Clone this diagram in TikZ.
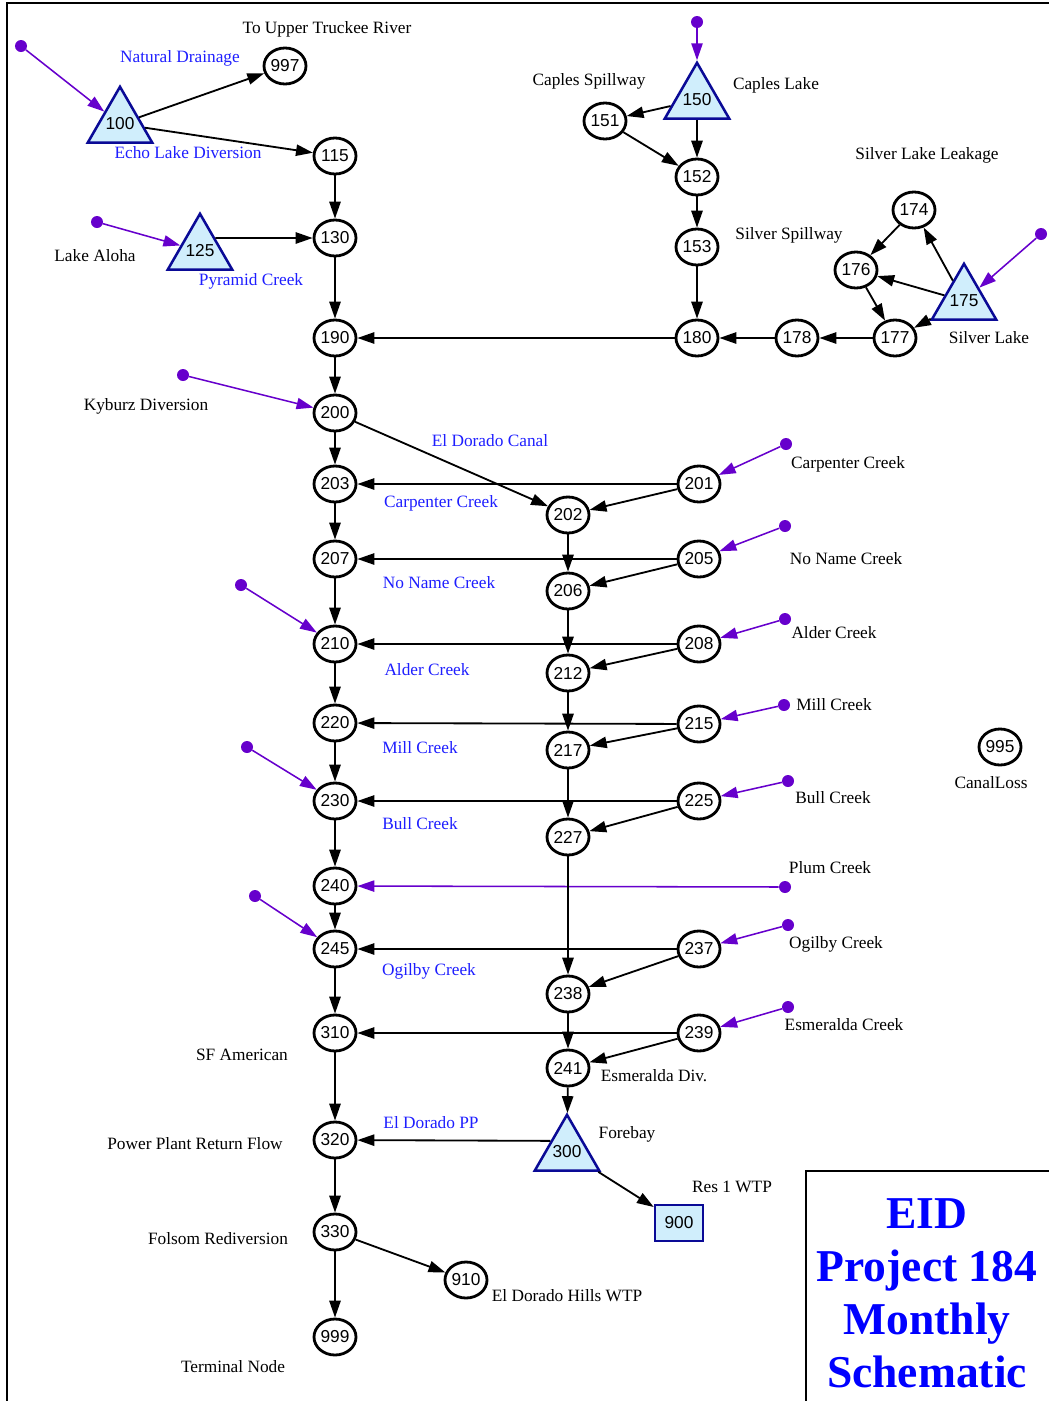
\documentclass[tikz,border=0pt]{standalone}
\usepackage{fontspec}
\setmainfont{Liberation Serif}
\newfontfamily\numfont{Liberation Sans}
\usetikzlibrary{arrows.meta,shapes.geometric}
\definecolor{inflowc}{RGB}{102,0,204}
\definecolor{arcblue}{RGB}{30,30,255}
\definecolor{resfill}{RGB}{208,238,252}
\definecolor{resline}{RGB}{10,10,150}
\newcommand{\resnum}[1]{\makebox[0pt]{#1}}
\tikzset{
  numtext/.style={font=\numfont\fontsize{12.3}{14}\selectfont},
  junc/.style={ellipse, draw, line width=2pt, minimum width=1.05cm, minimum height=0.9cm, inner sep=0pt, numtext},
  res/.style={regular polygon, regular polygon sides=3, draw=resline, fill=resfill, line width=1.8pt, minimum size=1.86cm, inner sep=0pt, numtext},
  dem/.style={rectangle, draw=resline, fill=resfill, line width=1.8pt, minimum width=1.2cm, minimum height=0.9cm, inner sep=0pt, numtext},
  src/.style={circle, fill=inflowc, inner sep=0pt, minimum size=0.3cm},
  flow/.style={line width=1.3pt, -{Triangle[length=12pt,width=8pt]}},
  inflow/.style={draw=inflowc, line width=1.1pt, -{Triangle[length=12pt,width=8pt]}},
  lbl/.style={font=\fontsize{12.3}{14}\selectfont, inner sep=0pt},
  arclbl/.style={lbl, text=arcblue},
}

\begin{document}
\begin{tikzpicture}[x=0.025cm, y=-0.025cm]
\clip (0,0) rectangle (1049,1401);
% ---------- frame and title box ----------
\draw[line width=2pt] (7,1410) -- (7,3) -- (1060,3);
\draw[line width=1.5pt] (806,1410) -- (806,1171) -- (1060,1171);
\node[text=blue, align=center, font=\fontsize{32.4}{37.6}\selectfont\bfseries] (title) at (927,1293)
  {EID\\Project 184\\Monthly\\Schematic};

% ---------- reservoirs and demands ----------
\node[res] (n100) at (120,124) {\resnum{100}};
\node[res] (n125) at (200,251) {\resnum{125}};
\node[res] (n150) at (697,100) {\resnum{150}};
\node[res] (n175) at (964,301) {\resnum{175}};
\node[res] (n300) at (567,1152) {\resnum{300}};
\node[dem] (n900) at (679,1223) {900};

% ---------- junctions ----------
\node[junc] (n997) at (285,66) {997};
\node[junc] (n115) at (335,156) {115};
\node[junc] (n130) at (335,238) {130};
\node[junc] (n190) at (335,338) {190};
\node[junc] (n200) at (335,413) {200};
\node[junc] (n203) at (335,484) {203};
\node[junc] (n207) at (335,559) {207};
\node[junc] (n210) at (335,644) {210};
\node[junc] (n220) at (335,723) {220};
\node[junc] (n230) at (335,801) {230};
\node[junc] (n240) at (335,886) {240};
\node[junc] (n245) at (335,949) {245};
\node[junc] (n310) at (335,1033) {310};
\node[junc] (n320) at (335,1140) {320};
\node[junc] (n330) at (335,1232) {330};
\node[junc] (n999) at (335,1337) {999};
\node[junc] (n910) at (466,1280) {910};
\node[junc] (n151) at (605,121) {151};
\node[junc] (n152) at (697,177) {152};
\node[junc] (n153) at (697,247) {153};
\node[junc] (n180) at (697,338) {180};
\node[junc] (n178) at (797,338) {178};
\node[junc] (n177) at (895,338) {177};
\node[junc] (n176) at (856,270) {176};
\node[junc] (n174) at (914,210) {174};
\node[junc] (n202) at (568,515) {202};
\node[junc] (n206) at (568,591) {206};
\node[junc] (n212) at (568,673) {212};
\node[junc] (n217) at (568,750) {217};
\node[junc] (n227) at (568,837) {227};
\node[junc] (n238) at (568,994) {238};
\node[junc] (n241) at (568,1068) {241};
\node[junc] (n201) at (699,484) {201};
\node[junc] (n205) at (699,559) {205};
\node[junc] (n208) at (699,644) {208};
\node[junc] (n215) at (699,724) {215};
\node[junc] (n225) at (699,801) {225};
\node[junc] (n237) at (699,949) {237};
\node[junc] (n239) at (699,1033) {239};
\node[junc] (n995) at (1000,747) {995};

% ---------- inflow points ----------
\node[src] (s100) at (21,46) {};
\node[src] (s125) at (97,222) {};
\node[src] (s150) at (697,22) {};
\node[src] (s175) at (1041,234) {};
\node[src] (s200) at (183,375) {};
\node[src] (s201) at (786,444) {};
\node[src] (s205) at (785,526) {};
\node[src] (s208) at (785,619) {};
\node[src] (s210) at (241,585) {};
\node[src] (s215) at (784,705) {};
\node[src] (s225) at (788,781) {};
\node[src] (s230) at (247,747) {};
\node[src] (s240) at (785,887) {};
\node[src] (s237) at (788,925) {};
\node[src] (s245) at (255,896) {};
\node[src] (s239) at (788,1007) {};

% ---------- inflows ----------
\draw[inflow] (s100) -- (n100);
\draw[inflow] (s125) -- (n125);
\draw[inflow] (s150) -- (n150);
\draw[inflow] (s175) -- (n175);
\draw[inflow] (s200) -- (n200);
\draw[inflow] (s201) -- (n201);
\draw[inflow] (s205) -- (n205);
\draw[inflow] (s208) -- (n208);
\draw[inflow] (s210) -- (n210);
\draw[inflow] (s215) -- (n215);
\draw[inflow] (s225) -- (n225);
\draw[inflow] (s230) -- (n230);
\draw[inflow] (s240) -- (n240);
\draw[inflow] (s237) -- (n237);
\draw[inflow] (s245) -- (n245);
\draw[inflow] (s239) -- (n239);

% ---------- upper basin ----------
\draw[flow] (n100) -- (n997);
\draw[flow] (n100) -- (n115);
\draw[flow] (n115) -- (n130);
\draw[flow] (n125.40) -- (n130);
\draw[flow] (n130) -- (n190);
\draw[flow] (n150) -- (n151);
\draw[flow] (n150) -- (n152);
\draw[flow] (n151) -- (n152);
\draw[flow] (n152) -- (n153);
\draw[flow] (n153) -- (n180);
\draw[flow] (n175) -- (n174);
\draw[flow] (n175) -- (n176);
\draw[flow] (n175) -- (n177);
\draw[flow] (n174) -- (n176);
\draw[flow] (n176) -- (n177);
\draw[flow] (n177) -- (n178);
\draw[flow] (n178) -- (n180);
\draw[flow] (n180) -- (n190);
\draw[flow] (n190) -- (n200);

% ---------- main stem and canal ----------
\draw[flow] (n200) -- (n203);
\draw[flow] (n200) -- (n202);
\draw[flow] (n203) -- (n207);
\draw[flow] (n207) -- (n210);
\draw[flow] (n210) -- (n220);
\draw[flow] (n220) -- (n230);
\draw[flow] (n230) -- (n240);
\draw[flow] (n240) -- (n245);
\draw[flow] (n245) -- (n310);
\draw[flow] (n310) -- (n320);
\draw[flow] (n320) -- (n330);
\draw[flow] (n330) -- (n999);
\draw[flow] (n330) -- (n910);
\draw[flow] (n202) -- (n206);
\draw[flow] (n206) -- (n212);
\draw[flow] (n212) -- (n217);
\draw[flow] (n217) -- (n227);
\draw[flow] (n227) -- (n238);
\draw[flow] (n238) -- (n241);
\draw[flow] (n241) -- (n300);
\draw[flow] (n300.146) -- (n320);
\draw[flow] (n300) -- (n900);

% ---------- creek splits ----------
\draw[flow] (n201) -- (n203);
\draw[flow] (n201) -- (n202);
\draw[flow] (n205) -- (n207);
\draw[flow] (n205) -- (n206);
\draw[flow] (n208) -- (n210);
\draw[flow] (n208) -- (n212);
\draw[flow] (n215) -- (n220);
\draw[flow] (n215) -- (n217);
\draw[flow] (n225) -- (n230);
\draw[flow] (n225) -- (n227);
\draw[flow] (n237) -- (n245);
\draw[flow] (n237) -- (n238);
\draw[flow] (n239) -- (n310);
\draw[flow] (n239) -- (n241);

% ---------- node labels ----------
\node[lbl] (l997) at (327,29) {To Upper Truckee River};
\node[lbl] (l125) at (95,256) {Lake Aloha};
\node[lbl] (l151) at (589,81) {Caples Spillway};
\node[lbl] (l150) at (776,85) {Caples Lake};
\node[lbl] (l174) at (927,155) {Silver Lake Leakage};
\node[lbl] (l153) at (789,235) {Silver Spillway};
\node[lbl] (l175) at (989,338) {Silver Lake};
\node[lbl] (l200) at (146,406) {Kyburz Diversion};
\node[lbl] (l201) at (848,464) {Carpenter Creek};
\node[lbl] (l205) at (846,559) {No Name Creek};
\node[lbl] (l208) at (834,633) {Alder Creek};
\node[lbl] (l215) at (834,705) {Mill Creek};
\node[lbl] (l225) at (833,798) {Bull Creek};
\node[lbl] (l240) at (830,868) {Plum Creek};
\node[lbl] (l237) at (836,944) {Ogilby Creek};
\node[lbl] (l239) at (844,1025) {Esmeralda Creek};
\node[lbl] (l241) at (654,1076) {Esmeralda Div.};
\node[lbl] (l310) at (242,1055) {SF American};
\node[lbl] (l300) at (627,1134) {Forebay};
\node[lbl] (l320) at (195,1144) {Power Plant Return Flow};
\node[lbl] (l900) at (732,1187) {Res 1 WTP};
\node[lbl] (l330) at (218,1239) {Folsom Rediversion};
\node[lbl] (l910) at (567,1296) {El Dorado Hills WTP};
\node[lbl] (l999) at (233,1367) {Terminal Node};
\node[lbl] (l995) at (991,783) {CanalLoss};

% ---------- link labels ----------
\node[arclbl] (a997) at (180,58) {Natural Drainage};
\node[arclbl] (a115) at (188,153) {Echo Lake Diversion};
\node[arclbl] (a130) at (251,281) {Pyramid Creek};
\node[arclbl] (a202) at (490,441) {El Dorado Canal};
\node[arclbl] (a203) at (441,503) {Carpenter Creek};
\node[arclbl] (a207) at (439,583) {No Name Creek};
\node[arclbl] (a210) at (427,670) {Alder Creek};
\node[arclbl] (a220) at (420,748) {Mill Creek};
\node[arclbl] (a230) at (420,824) {Bull Creek};
\node[arclbl] (a245) at (429,971) {Ogilby Creek};
\node[arclbl] (a320) at (431,1123) {El Dorado PP};
\end{tikzpicture}
\end{document}
